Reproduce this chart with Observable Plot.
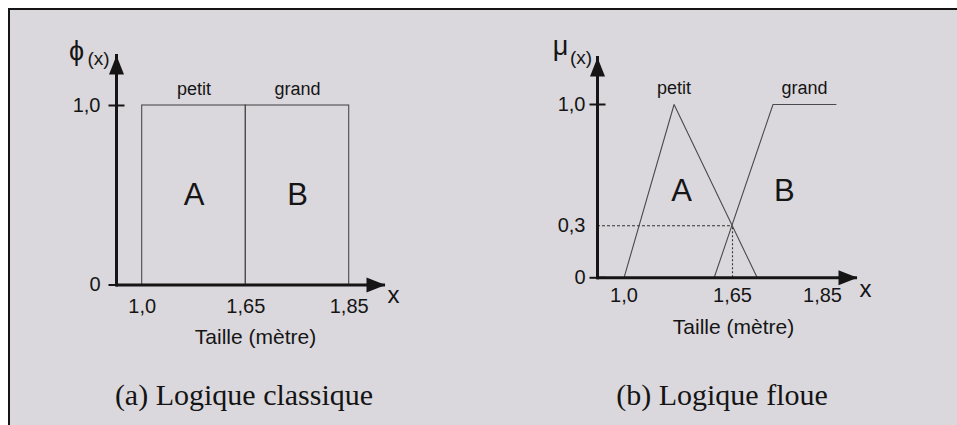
<!DOCTYPE html>
<html>
<head>
<meta charset="utf-8">
<script src="https://cdn.jsdelivr.net/npm/d3@7"></script>
<script src="https://cdn.jsdelivr.net/npm/@observablehq/plot@0.6"></script>
<style>
  body { margin: 0; background: #fff; }
  #page { position: relative; width: 957px; height: 425px; overflow: hidden; background: #fff; }
  #sheet { position: absolute; left: 8px; top: 8px; width: 960px; height: 430px;
           background: #dbd8dd; border-left: 2px solid #151515; border-top: 2px solid #151515; }
  .panel { position: absolute; top: 0; }
  .caption { position: absolute; top: 378px; font-family: "Liberation Serif", serif; font-size: 30px;
             color: #141414; white-space: nowrap; transform: translateX(-50%); }
</style>
</head>
<body>
<div id="page">
  <div id="sheet"></div>
  <div id="left" class="panel" style="left:0px"></div>
  <div id="right" class="panel" style="left:477px"></div>
  <div class="caption" style="left:244px">(a) Logique classique</div>
  <div class="caption" style="left:722px">(b) Logique floue</div>
</div>
<script>
// Height graduations (metres) and their printed labels
const xTicks = [1.0, 1.65, 1.85];
const xTickLabels = ["1,0", "1,65", "1,85"];

// (a) classical sets: crisp intervals on height
const crispNames = ["petit", "grand"];
const crispLetters = ["A", "B"];
const crispFrom = [1.0, 1.65];
const crispTo = [1.65, 1.85];
const crispTicks = [0, 1];
const crispTickLabels = ["0", "1,0"];

// (b) fuzzy sets: membership breakpoints
const petitX = [1.0, 1.30, 1.705];
const petitMu = [0, 1, 0];
const grandX = [1.54, 1.74, 1.88];
const grandMu = [0, 1, 1];
const fuzzyLetters = ["A", "B"];
const fuzzyLetterX = [1.345, 1.765];
const cutX = 1.65;
const cutMu = 0.3;
const fuzzyTicks = [0, 0.3, 1];
const fuzzyTickLabels = ["0", "0,3", "1,0"];

const ink = "#151515";
const thin = "#4a4a4a";
const sans = "Liberation Sans, Arial, sans-serif";

// custom marker shapes
const arrowRight = { draw(c) { c.moveTo(0, 0); c.lineTo(-19, -7.5); c.lineTo(-19, 7.5); c.closePath(); } };
const arrowUp = { draw(c) { c.moveTo(0, 0); c.lineTo(-7.5, 19); c.lineTo(7.5, 19); c.closePath(); } };
const crossTick = { draw(c) { c.moveTo(-8, 0); c.lineTo(8, 0); } };

const fmt = (ticks, labels) => d => labels[ticks.indexOf(d)];

// shared axis furniture: arrowed axes, tick marks, names
function axes({ticks, labels, xPad, yPad, sym, nameDx, nameDy}) {
  return [
    Plot.ruleY([0], {stroke: ink, strokeWidth: 3}),
    Plot.frame({anchor: "left", stroke: ink, strokeWidth: 3}),
    Plot.dot([0], {y: d => d, frameAnchor: "right", symbol: arrowRight, fill: ink, stroke: null}),
    Plot.dot([0], {frameAnchor: "top-left", symbol: arrowUp, fill: ink, stroke: null}),
    Plot.dot([0, 1], {y: d => d, frameAnchor: "left", symbol: crossTick, stroke: ink, strokeWidth: 2}),
    Plot.axisX({ticks: xTicks, tickFormat: fmt(xTicks, xTickLabels), tickSize: 0, tickPadding: xPad,
                fontSize: 20, fill: ink, label: null}),
    Plot.axisY({ticks, tickFormat: fmt(ticks, labels), tickSize: 0, tickPadding: yPad,
                fontSize: 20, fill: ink, label: null}),
    Plot.text([0], {y: d => d, frameAnchor: "right", text: () => "x", dx: 8, dy: nameDy[0],
                    textAnchor: "middle", lineAnchor: "middle", fontSize: 24, fill: ink}),
    Plot.text([0], {y: d => d, frameAnchor: "bottom", text: () => "Taille (mètre)", dx: nameDx, dy: nameDy[1],
                    lineAnchor: "middle", fontSize: 21, fill: ink}),
    Plot.text([sym.letter], {frameAnchor: "top-left", text: d => d, dx: sym.dx[0], dy: sym.dy[0],
                             textAnchor: "middle", lineAnchor: "middle", fontSize: 27, fill: ink}),
    Plot.text(["(x)"], {frameAnchor: "top-left", text: d => d, dx: sym.dx[1], dy: sym.dy[1],
                        textAnchor: "middle", lineAnchor: "middle", fontSize: 19, fill: ink})
  ];
}

// (a) Logique classique
const crisp = crispNames.map((name, i) => ({name, letter: crispLetters[i], from: crispFrom[i], to: crispTo[i]}));
const mid = d => (d.from + d.to) / 2;

const left = Plot.plot({
  width: 478, height: 360,
  marginLeft: 116, marginTop: 55, marginRight: 93, marginBottom: 75.5,
  x: {type: "linear", domain: xTicks, range: [141.7, 245.3, 348.7]},
  y: {domain: [0, 1], range: [284.5, 105]},
  style: {background: "transparent", fontFamily: sans, overflow: "visible"},
  marks: [
    Plot.rect(crisp, {x1: "from", x2: "to", y1: 0, y2: 1, fill: "none", stroke: thin, strokeWidth: 1.1}),
    Plot.text(crisp, {x: mid, y: 1, text: "name", dy: -16, fontSize: 18, fill: ink}),
    Plot.text(crisp, {x: mid, y: 0.5, text: "letter", fontSize: 31, fill: ink}),
    ...axes({
      ticks: crispTicks, labels: crispTickLabels, xPad: 14, yPad: 16, nameDx: 4.5, nameDy: [10.5, 52.5],
      sym: {letter: "ϕ", dx: [-40, -18], dy: [-4, 3]}
    })
  ]
});
document.getElementById("left").append(left);

// (b) Logique floue
const xScaleB = {type: "linear", domain: xTicks, range: [146.5, 255, 345]};
const marginLeftB = 120;
// height value sitting on the vertical axis, where the dashed guide starts
const xAxisOrigin = Plot.scale({x: xScaleB}).invert(marginLeftB);

const petit = petitX.map((x, i) => ({set: "petit", x, mu: petitMu[i]}));
const grand = grandX.map((x, i) => ({set: "grand", x, mu: grandMu[i]}));
const setNames = [
  {name: "petit", x: petitX[1]},
  {name: "grand", x: (grandX[1] + grandX[2]) / 2}
];
const letters = fuzzyLetters.map((letter, i) => ({letter, x: fuzzyLetterX[i]}));

const right = Plot.plot({
  width: 480, height: 360,
  marginLeft: marginLeftB, marginTop: 57, marginRight: 100, marginBottom: 82.7,
  x: xScaleB,
  y: {domain: [0, 1], range: [277.3, 104]},
  style: {background: "transparent", fontFamily: sans, overflow: "visible"},
  marks: [
    Plot.ruleY([cutMu], {x1: xAxisOrigin, x2: cutX, stroke: "#333", strokeWidth: 1.1, strokeDasharray: "3,2"}),
    Plot.ruleX([cutX], {y1: 0, y2: cutMu, stroke: "#333", strokeWidth: 1.1, strokeDasharray: "2,2"}),
    Plot.line(petit, {x: "x", y: "mu", stroke: thin, strokeWidth: 1.1}),
    Plot.line(grand, {x: "x", y: "mu", stroke: thin, strokeWidth: 1.1}),
    Plot.text(setNames, {x: "x", y: 1, text: "name", dy: -16, fontSize: 18, fill: ink}),
    Plot.text(letters, {x: "x", y: 0.5, text: "letter", fontSize: 31, fill: ink}),
    ...axes({
      ticks: fuzzyTicks, labels: fuzzyTickLabels, xPad: 9.5, yPad: 12, nameDx: 6, nameDy: [11.7, 49.7],
      sym: {letter: "μ", dx: [-37, -16.5], dy: [-11, 0]}
    })
  ]
});
document.getElementById("right").append(right);
</script>
</body>
</html>
